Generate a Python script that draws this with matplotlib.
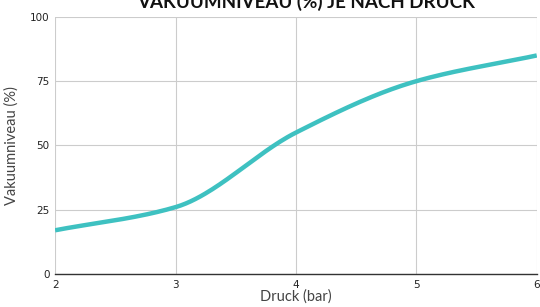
import numpy as np
import matplotlib
matplotlib.use("Agg")
import matplotlib.pyplot as plt

druck = [2, 3, 4, 5, 6]
vakuum = [17, 26, 55, 75, 85]
y_ticks = [0, 25, 50, 75, 100]

line_color = "#3ec1c1"


def monotone_curve(xs, ys, n=200):
    # Fritsch-Carlson monotone cubic, only used to draw the smooth line
    xs = np.asarray(xs, float)
    ys = np.asarray(ys, float)
    h = np.diff(xs)
    d = np.diff(ys) / h
    m = np.zeros_like(ys)
    m[0], m[-1] = d[0], d[-1]
    for i in range(1, len(xs) - 1):
        if d[i - 1] * d[i] > 0:
            w1 = 2 * h[i] + h[i - 1]
            w2 = h[i] + 2 * h[i - 1]
            m[i] = (w1 + w2) / (w1 / d[i - 1] + w2 / d[i])
    xx = np.linspace(xs[0], xs[-1], n)
    idx = np.clip(np.searchsorted(xs, xx) - 1, 0, len(xs) - 2)
    t = (xx - xs[idx]) / h[idx]
    h00 = 2 * t**3 - 3 * t**2 + 1
    h10 = t**3 - 2 * t**2 + t
    h01 = -2 * t**3 + 3 * t**2
    h11 = t**3 - t**2
    yy = (h00 * ys[idx] + h10 * h[idx] * m[idx]
          + h01 * ys[idx + 1] + h11 * h[idx] * m[idx + 1])
    return xx, yy


fig = plt.figure(figsize=(5.4, 3.07), dpi=100)
ax = fig.add_axes([0.102, 0.1075, 0.892, 0.8375])

xx, yy = monotone_curve(druck, vakuum)
ax.plot(xx, yy, color=line_color, lw=3.2, solid_capstyle="butt", zorder=3)

ax.set_xlim(2, 6)
ax.set_ylim(0, 100)
ax.set_xticks(druck)
ax.set_yticks(y_ticks)
ax.grid(True, color="#cccccc", lw=0.8)
ax.set_axisbelow(True)
for s in ["top", "right", "left"]:
    ax.spines[s].set_visible(False)
ax.spines["bottom"].set_color("#333333")
ax.spines["bottom"].set_linewidth(1.0)
ax.tick_params(length=0, labelsize=7.5, colors="#222222")
ax.tick_params(axis="x", pad=4)
ax.tick_params(axis="y", pad=4)

ax.set_xlabel("Druck (bar)", fontsize=10.5, family="Lato",
              color="#444444", labelpad=0)
ax.set_ylabel("Vakuumniveau (%)", fontsize=10.5, family="Lato",
              color="#444444", labelpad=8)

fig.text(0.567, 0.995, "VAKUUMNIVEAU (%) JE NACH DRUCK", ha="center", va="center",
         fontsize=13.5, fontweight="bold", family="Lato", color="#111111")

fig.savefig("out.png", dpi=100)
